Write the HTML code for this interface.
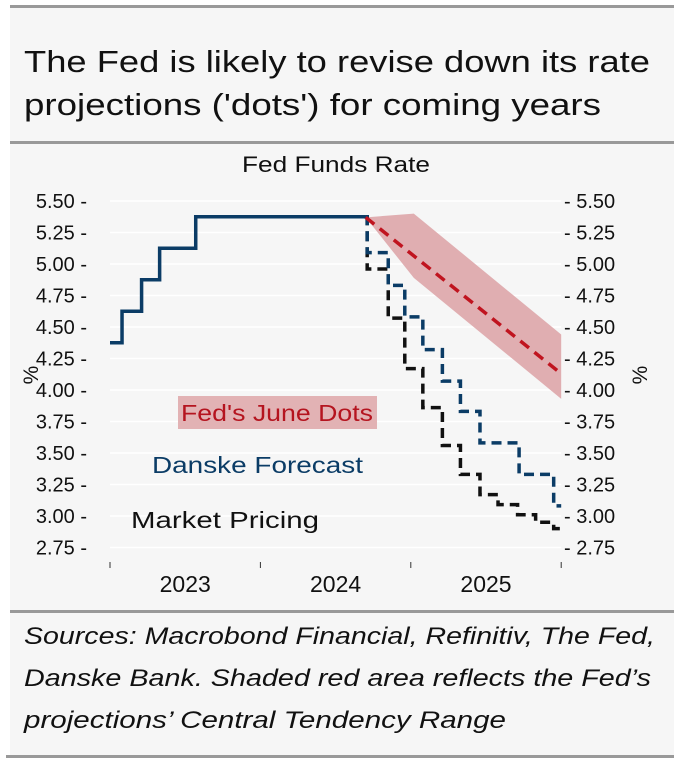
<!DOCTYPE html>
<html><head><meta charset="utf-8"><style>
html,body{margin:0;padding:0;background:#fff;}
svg{display:block;font-family:"Liberation Sans Narrow","Liberation Sans",sans-serif;}
</style></head><body>
<svg id="c" width="674" height="775" viewBox="0 0 674 775" xmlns="http://www.w3.org/2000/svg">
<rect x="10" y="6" width="664" height="752" fill="#f6f6f6"/>
<rect x="10" y="5" width="664" height="3" fill="#999"/>
<rect x="10" y="141" width="664" height="3" fill="#999"/>
<rect x="10" y="610" width="664" height="3" fill="#999"/>
<rect x="6" y="755" width="668" height="3" fill="#999"/>
<g font-size="31" fill="#111">
<text x="24" y="72" textLength="626" lengthAdjust="spacingAndGlyphs">The Fed is likely to revise down its rate</text>
<text x="24" y="115" textLength="577" lengthAdjust="spacingAndGlyphs">projections ('dots') for coming years</text>
</g>
<text x="336" y="172" text-anchor="middle" font-size="22" fill="#111" textLength="188" lengthAdjust="spacingAndGlyphs">Fed Funds Rate</text>
<g id="grid"></g><g id="axes"></g><g id="plot"></g>
<g>
<rect x="178" y="396" width="199" height="33" fill="#e2b2b4"/>
<text x="181" y="421" font-size="23" fill="#b5141f" textLength="192" lengthAdjust="spacingAndGlyphs">Fed's June Dots</text>
</g>
<text x="152" y="473" font-size="23" fill="#0b3c66" textLength="211" lengthAdjust="spacingAndGlyphs">Danske Forecast</text>
<text x="131" y="528" font-size="23" fill="#111" textLength="188" lengthAdjust="spacingAndGlyphs">Market Pricing</text>
<text transform="translate(38,375) rotate(-90)" text-anchor="middle" font-size="21" fill="#111">%</text>
<text transform="translate(647,375) rotate(-90)" text-anchor="middle" font-size="21" fill="#111">%</text>
<g font-size="24" font-style="italic" fill="#111">
<text x="24" y="644" textLength="631" lengthAdjust="spacingAndGlyphs">Sources: Macrobond Financial, Refinitiv, The Fed,</text>
<text x="24" y="686" textLength="627" lengthAdjust="spacingAndGlyphs">Danske Bank. Shaded red area reflects the Fed’s</text>
<text x="24" y="728" textLength="482" lengthAdjust="spacingAndGlyphs">projections’ Central Tendency Range</text>
</g>
</svg>
<script>
const yTicks=[5.50,5.25,5.00,4.75,4.50,4.25,4.00,3.75,3.50,3.25,3.00,2.75];
const yearLabels=["2023","2024","2025"];
const actualT=[0.0,0.08,0.08,0.21,0.21,0.33,0.33,0.57,0.57,1.70];
const actualV=[4.375,4.375,4.625,4.625,4.875,4.875,5.125,5.125,5.375,5.375];
const danskeT=[1.70,1.71,1.85,1.96,2.08,2.21,2.33,2.46,2.72,2.95,3.0];
const danskeV=[5.375,5.09,4.83,4.58,4.32,4.07,3.83,3.58,3.33,3.08,3.08];
const marketT=[1.70,1.71,1.85,1.96,2.08,2.21,2.33,2.46,2.58,2.71,2.83,2.95,3.0];
const marketV=[5.375,4.96,4.57,4.17,3.86,3.56,3.33,3.17,3.09,3.01,2.95,2.90,2.90];
const dotsT=[1.70,3.0];
const dotsV=[5.37,4.13];
const bandT=[1.70,2.02,3.0];
const bandHi=[5.37,5.40,4.44];
const bandLo=[5.37,4.89,3.93];
const NS="http://www.w3.org/2000/svg";
const X=t=>110+t*150.4;
const Y=v=>201+(5.5-v)/0.25*31.5;
function mk(tag,attrs,parent){const e=document.createElementNS(NS,tag);for(const k in attrs)e.setAttribute(k,attrs[k]);parent.appendChild(e);return e;}
const grid=document.getElementById('grid'),axes=document.getElementById('axes'),plot=document.getElementById('plot');
yTicks.forEach(v=>{
 const l=mk('line',{x1:X(0),x2:X(3),y1:Y(v),y2:Y(v),stroke:'#fff','stroke-width':1.5},grid);
 
 
 const a=mk('text',{x:87,y:Y(v)+7,'text-anchor':'end','font-size':20,fill:'#111'},axes);a.textContent=v.toFixed(2)+' -';
 
 
 const b=mk('text',{x:564,y:Y(v)+7,'font-size':20,fill:'#111'},axes);b.textContent='- '+v.toFixed(2);
 
 
});
for(let i=0;i<=3;i++){const t=mk('line',{x1:X(i),x2:X(i),y1:562,y2:568,stroke:'#333','stroke-width':1},axes);
 
 }
yearLabels.forEach((s,i)=>{const t=mk('text',{x:X(i+0.5),y:592,'text-anchor':'middle','font-size':23,fill:'#111'},axes);t.textContent=s;
 
 });
let bp=bandT.map((t,i)=>X(t)+','+Y(bandHi[i])).concat(bandT.slice().reverse().map((t,i)=>X(t)+','+Y(bandLo[bandT.length-1-i])));
const band=mk('polygon',{points:bp.join(' '),fill:'#e0aeb1'},plot);


function stepPath(T,V){let d='M'+X(T[0])+','+Y(V[0]);for(let i=1;i<T.length;i++){d+=' L'+X(T[i])+','+Y(V[i-1])+' L'+X(T[i])+','+Y(V[i]);}return d;}
function linePath(T,V){return T.map((t,i)=>(i?'L':'M')+X(t)+','+Y(V[i])).join(' ');}
const m=mk('path',{d:stepPath(marketT,marketV),fill:'none',stroke:'#111','stroke-width':3.5,'stroke-dasharray':'10,6'},plot);


const dk=mk('path',{d:stepPath(danskeT,danskeV),fill:'none',stroke:'#0b3c66','stroke-width':3.5,'stroke-dasharray':'10,6'},plot);


const ac=mk('path',{d:stepPath(actualT,actualV),fill:'none',stroke:'#0b3c66','stroke-width':3.5},plot);


const fd=mk('path',{d:linePath(dotsT,dotsV),fill:'none',stroke:'#c0141f','stroke-width':3.5,'stroke-dasharray':'11,7'},plot);


</script>
</body></html>
